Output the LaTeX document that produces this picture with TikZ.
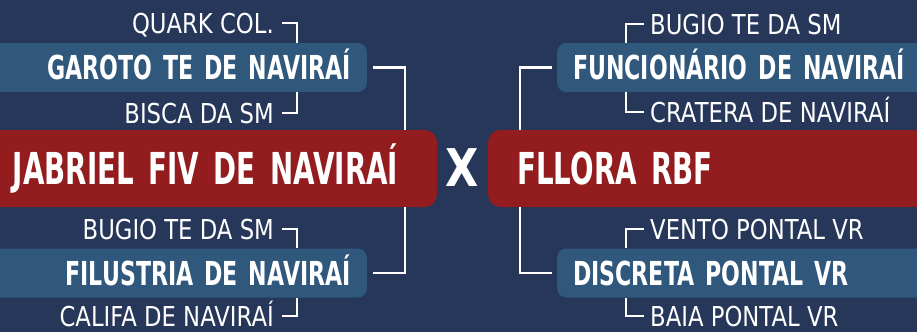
\documentclass[tikz,border=0pt]{standalone}
\usepackage{fontspec}
\setmainfont{DejaVu Sans}[FakeStretch=0.83]
\newfontfamily\teamfont{DejaVu Sans}[FakeStretch=0.67]
\newfontfamily\finalfont{DejaVu Sans}[FakeStretch=0.63]
\definecolor{navy}{HTML}{263759}
\definecolor{teamblue}{HTML}{30577C}
\definecolor{finalred}{HTML}{931D1E}
\tikzset{
	team/.style={fill=teamblue,rounded corners=9pt,text=white,minimum height=49pt,inner xsep=16pt,inner ysep=0pt,
		font=\teamfont\bfseries\fontsize{33}{33}\selectfont,text height=24pt,text depth=0pt},
	final/.style={fill=finalred,rounded corners=12pt,text=white,minimum height=77pt,inner ysep=0pt,
		font=\finalfont\bfseries\fontsize{44}{44}\selectfont,text height=32pt,text depth=0pt},
	seed/.style={text=white,inner sep=0pt,font=\fontsize{27.4}{27.4}\selectfont,text height=20pt,text depth=0pt},
	link/.style={draw=white,line width=2.5pt}
}
\begin{document}
\begin{tikzpicture}[x=1pt,y=-1pt]
	\path[use as bounding box,clip] (0,0) rectangle (917,332);
	\fill[navy] (0,0) rectangle (917,332);
	% Columns
	\coordinate (lcol) at (405,0);
	\coordinate (rcol) at (520,0);
	\coordinate (lbrk) at (297,0);
	\coordinate (rbrk) at (626,0);
	% Nodes
	\node (jabriel) [final,anchor=east,inner xsep=33pt,text width=391pt,align=left] at (437,168.5) {JABRIEL FIV DE NAVIRAÍ};
	\node (fllora) [final,anchor=west,inner xsep=29pt,text width=394pt,align=left] at (488,168.5) {FLLORA RBF};
	\node (versus) [text=white,inner sep=0pt,font=\bfseries\fontsize{52}{52}\selectfont] at (462,168) {X};
	\node (garoto) [team,anchor=east,text width=355pt,align=right] at (367,67.5) {GAROTO TE DE NAVIRAÍ};
	\node (filustria) [team,anchor=east,text width=355pt,align=right] at (367,273) {FILUSTRIA DE NAVIRAÍ};
	\node (funcionario) [team,anchor=west,text width=351pt,align=left] at (557,67.5) {FUNCIONÁRIO DE NAVIRAÍ};
	\node (discreta) [team,anchor=west,text width=351pt,align=left] at (557,273) {DISCRETA PONTAL VR};
	\node (quark) [seed,anchor=east] at (274,23) {QUARK COL.};
	\node (bisca) [seed,anchor=east] at (274,113) {BISCA DA SM};
	\node (bugioL) [seed,anchor=east] at (274,229) {BUGIO TE DA SM};
	\node (califa) [seed,anchor=east] at (274,316) {CALIFA DE NAVIRAÍ};
	\node (bugioR) [seed,anchor=west] at (650,24) {BUGIO TE DA SM};
	\node (cratera) [seed,anchor=west] at (650,112) {CRATERA DE NAVIRAÍ};
	\node (vento) [seed,anchor=west] at (650,229) {VENTO PONTAL VR};
	\node (baia) [seed,anchor=west] at (650,316) {BAIA PONTAL VR};
	% Edges
	\draw[link] ([xshift=6pt]garoto.east) -| (jabriel.north -| lcol);
	\draw[link] (jabriel.south -| lcol) |- ([xshift=6pt]filustria.east);
	\draw[link] ([xshift=-5pt]funcionario.west) -| (fllora.north -| rcol);
	\draw[link] (fllora.south -| rcol) |- ([xshift=-5pt]discreta.west);
	\draw[link] ([xshift=8pt]quark.east) -| (garoto.north -| lbrk);
	\draw[link] ([xshift=8pt]bisca.east) -| (garoto.south -| lbrk);
	\draw[link] ([xshift=8pt]bugioL.east) -| (filustria.north -| lbrk);
	\draw[link] ([xshift=8pt]califa.east) -| (filustria.south -| lbrk);
	\draw[link] ([xshift=-6pt]bugioR.west) -| (funcionario.north -| rbrk);
	\draw[link] ([xshift=-6pt]cratera.west) -| (funcionario.south -| rbrk);
	\draw[link] ([xshift=-6pt]vento.west) -| (discreta.north -| rbrk);
	\draw[link] ([xshift=-6pt]baia.west) -| (discreta.south -| rbrk);
\end{tikzpicture}
\end{document}
